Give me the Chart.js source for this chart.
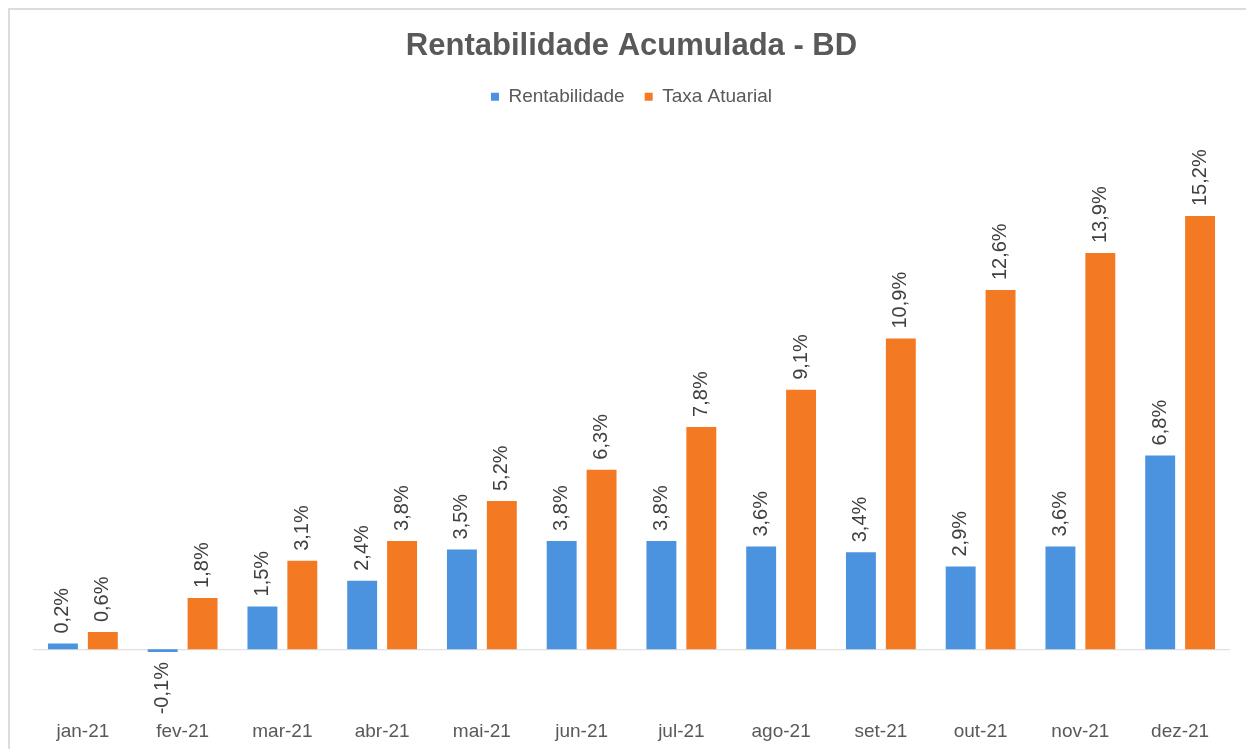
<!DOCTYPE html>
<html>
<head>
<meta charset="utf-8">
<script src="https://cdn.jsdelivr.net/npm/chart.js@4"></script>
<style>
  html, body { margin: 0; padding: 0; background: #fff; }
  #wrap { position: relative; width: 1246px; height: 749px; }
</style>
</head>
<body>
<div id="wrap"><canvas id="chart" width="1246" height="749"></canvas></div>
<script>
// chart values
const months = ["jan-21", "fev-21", "mar-21", "abr-21", "mai-21", "jun-21",
  "jul-21", "ago-21", "set-21", "out-21", "nov-21", "dez-21"];
const rentabilidade = [0.2, -0.1, 1.5, 2.4, 3.5, 3.8, 3.8, 3.6, 3.4, 2.9, 3.6, 6.8];
const taxaAtuarial = [0.6, 1.8, 3.1, 3.8, 5.2, 6.3, 7.8, 9.1, 10.9, 12.6, 13.9, 15.2];

const textColor = "#595959";
const fontFamily = "Arial, 'Liberation Sans', sans-serif";

function fmt(v) {
  return v.toFixed(1).replace(".", ",") + "%";
}

// frame, zero line and rotated value labels
const extras = {
  id: "extras",
  beforeInit(chart) {
    // extra room under the legend
    const fit = chart.legend.fit;
    chart.legend.fit = function () {
      fit.call(this);
      this.height += 20;
    };
  },
  beforeDraw(chart) {
    const ctx = chart.ctx;
    ctx.save();
    ctx.strokeStyle = "#dcdcdc";
    ctx.lineWidth = 2;
    ctx.beginPath();
    ctx.moveTo(9, 749);
    ctx.lineTo(9, 9);
    ctx.lineTo(1246, 9);
    ctx.stroke();
    ctx.restore();
  },
  beforeDatasetsDraw(chart) {
    const ctx = chart.ctx;
    const y0 = chart.scales.y.getPixelForValue(0);
    ctx.save();
    ctx.strokeStyle = "#d9d9d9";
    ctx.lineWidth = 1;
    ctx.beginPath();
    ctx.moveTo(chart.chartArea.left, y0 + 0.5);
    ctx.lineTo(chart.chartArea.right, y0 + 0.5);
    ctx.stroke();
    ctx.restore();
  },
  afterDatasetsDraw(chart) {
    const ctx = chart.ctx;
    ctx.save();
    ctx.font = "20px " + fontFamily;
    ctx.fillStyle = "#404040";
    ctx.textBaseline = "middle";
    chart.data.datasets.forEach((ds, i) => {
      chart.getDatasetMeta(i).data.forEach((bar, j) => {
        const v = ds.data[j];
        ctx.save();
        ctx.translate(bar.x, bar.y);
        ctx.rotate(-Math.PI / 2);
        if (v >= 0) {
          ctx.textAlign = "left";
          ctx.fillText(fmt(v), 10, 0);
        } else {
          ctx.textAlign = "right";
          ctx.fillText(fmt(v), -10, 0);
        }
        ctx.restore();
      });
    });
    ctx.restore();
  }
};

new Chart(document.getElementById("chart"), {
  type: "bar",
  data: {
    labels: months,
    datasets: [
      { label: "Rentabilidade", data: rentabilidade, backgroundColor: "#4B93DE" },
      { label: "Taxa Atuarial", data: taxaAtuarial, backgroundColor: "#F37A22" }
    ]
  },
  options: {
    responsive: false,
    animation: false,
    layout: { padding: { left: 33, right: 16, top: 0, bottom: 0 } },
    categoryPercentage: 0.8,
    barPercentage: 0.75,
    plugins: {
      title: {
        display: true,
        text: "Rentabilidade Acumulada - BD",
        color: textColor,
        font: { family: fontFamily, size: 31, weight: "bold" },
        padding: { top: 28, bottom: 2 }
      },
      legend: {
        display: true,
        labels: {
          color: textColor,
          font: { family: fontFamily, size: 19 },
          boxWidth: 8,
          boxHeight: 8,
          padding: 20
        }
      },
      tooltip: { enabled: false }
    },
    scales: {
      x: {
        grid: { display: false },
        border: { display: false },
        ticks: { color: textColor, font: { family: fontFamily, size: 19 }, padding: 6 }
      },
      y: {
        display: false,
        min: -2.0,
        max: 18.0
      }
    }
  },
  plugins: [extras]
});
</script>
</body>
</html>
